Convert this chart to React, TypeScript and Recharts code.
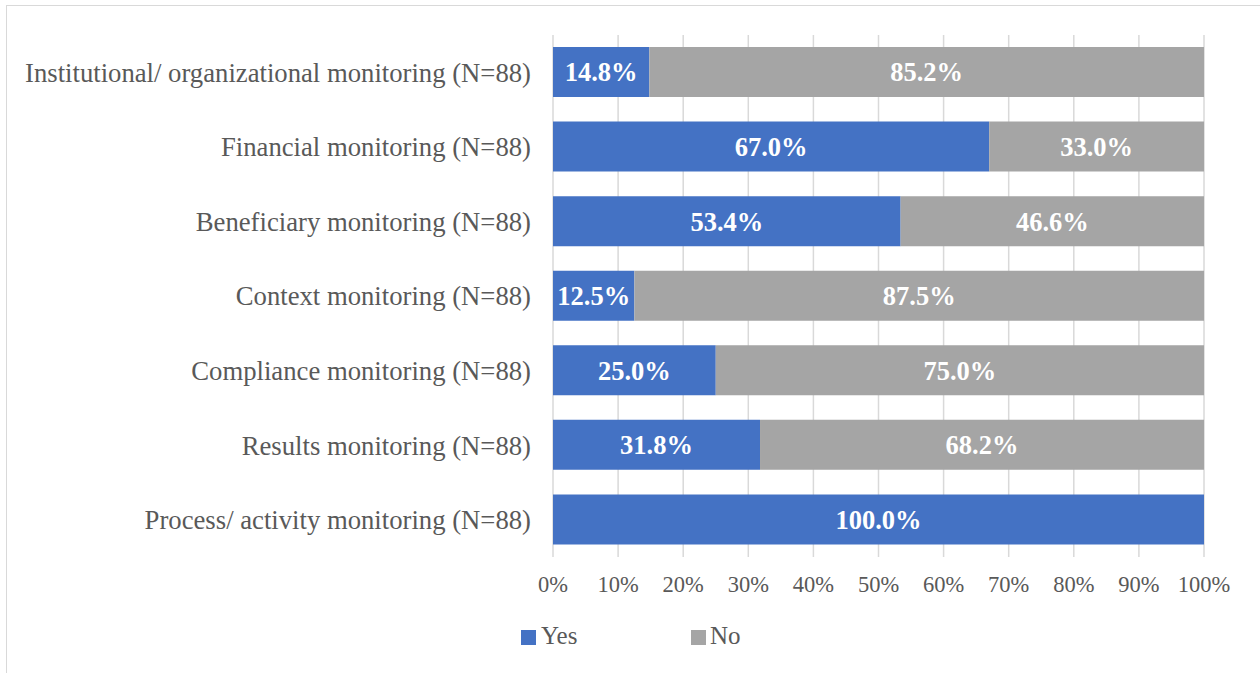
import React from "react";
import { BarChart, Bar, XAxis, YAxis, CartesianGrid, LabelList } from "recharts";

// values (percent of N=88)
const categories = [
  "Institutional/ organizational monitoring (N=88)",
  "Financial monitoring (N=88)",
  "Beneficiary monitoring (N=88)",
  "Context monitoring (N=88)",
  "Compliance monitoring (N=88)",
  "Results monitoring (N=88)",
  "Process/ activity monitoring (N=88)",
];
const yesValues = [14.8, 67.0, 53.4, 12.5, 25.0, 31.8, 100.0];
const noValues = [85.2, 33.0, 46.6, 87.5, 75.0, 68.2, 0];
const xTicks = [0, 10, 20, 30, 40, 50, 60, 70, 80, 90, 100];

const data = categories.map((name, i) => ({ name, yes: yesValues[i], no: noValues[i] }));

const FONT = "'Liberation Serif', 'Times New Roman', serif";
const TEXT = "#595959";

const pct = (v: any) => (Number(v) > 0 ? `${Number(v).toFixed(1)}%` : "");

const labelStyle = { fill: "#fff", fontWeight: "bold", fontSize: 26.5, fontFamily: FONT };

// legend drawn beside the chart so it doesn't eat into the plot height
const LegendBox = () => (
  <div style={{ position: "absolute", left: 0, top: 622, width: 1260, height: 30, fontFamily: FONT, fontSize: 25, color: TEXT }}>
    <span style={{ position: "absolute", left: 521, top: 8, width: 15, height: 15, background: "#4472C4" }} />
    <span style={{ position: "absolute", left: 541, top: 0 }}>Yes</span>
    <span style={{ position: "absolute", left: 691, top: 8, width: 15, height: 15, background: "#A5A5A5" }} />
    <span style={{ position: "absolute", left: 710, top: 0 }}>No</span>
  </div>
);

export default function App() {
  return (
    <div style={{ position: "fixed", left: 0, top: 0, width: 1260, height: 673, background: "#fff", overflow: "hidden" }}>
      <div
        style={{
          position: "absolute",
          left: 6,
          top: 5,
          width: 1270,
          height: 700,
          border: "1.5px solid #d9d9d9",
        }}
      />
      <BarChart
        width={1260}
        height={673}
        data={data}
        layout="vertical"
        barSize={50}
        margin={{ top: 35, right: 56, bottom: 86, left: 0 }}
      >
        <CartesianGrid horizontal={false} stroke="#d9d9d9" strokeWidth={1.5} />
        <XAxis
          type="number"
          domain={[0, 100]}
          ticks={xTicks}
          tickFormatter={(v) => `${v}%`}
          axisLine={false}
          tickLine={false}
          tickSize={0}
          tickMargin={19}
          height={30}
          tick={{ fill: TEXT, fontSize: 22.5, fontFamily: FONT }}
          interval={0}
        />
        <YAxis
          type="category"
          dataKey="name"
          width={553}
          axisLine={false}
          tickLine={false}
          tickSize={0}
          tickMargin={22}
          tick={{ fill: TEXT, fontSize: 26.7, fontFamily: FONT }}
          interval={0}
        />
        <Bar dataKey="yes" stackId="a" fill="#4472C4" isAnimationActive={false}>
          <LabelList dataKey="yes" position="center" formatter={pct} style={labelStyle} />
        </Bar>
        <Bar dataKey="no" stackId="a" fill="#A5A5A5" isAnimationActive={false}>
          <LabelList dataKey="no" position="center" formatter={pct} style={labelStyle} />
        </Bar>
      </BarChart>
      <LegendBox />
    </div>
  );
}
